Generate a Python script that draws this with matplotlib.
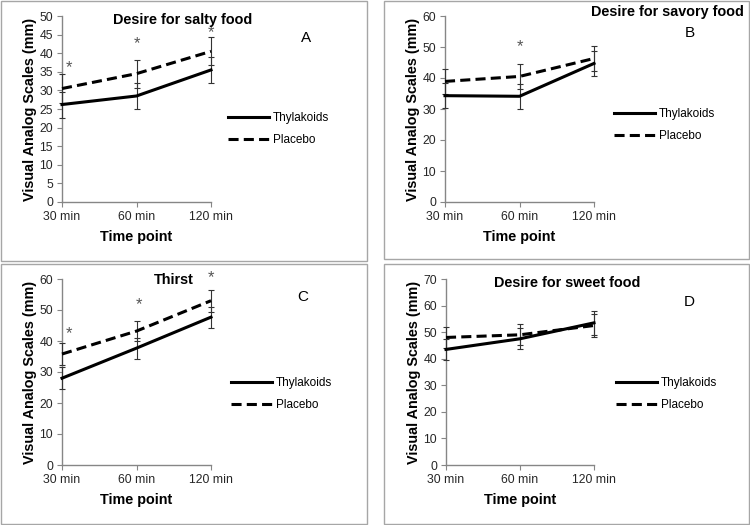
import matplotlib
matplotlib.use("Agg")
import matplotlib.pyplot as plt
from matplotlib.patches import Rectangle
from matplotlib.lines import Line2D

plt.rcParams['font.family'] = ['Liberation Sans', 'DejaVu Sans']

W, H = 750, 525
categories = ["30 min", "60 min", "120 min"]
series_names = ["Thylakoids", "Placebo"]

# Panel A - Desire for salty food
salty_thy = [26.2, 28.5, 35.5]
salty_thy_err = [3.5, 3.5, 3.5]
salty_pla = [30.5, 34.5, 40.5]
salty_pla_err = [3.8, 3.8, 3.8]
salty_stars = [(0.09, 36.0), (1.0, 42.7), (2.0, 45.4)]

# Panel B - Desire for savory food
savory_thy = [34.3, 34.1, 44.7]
savory_thy_err = [4.0, 4.1, 4.0]
savory_pla = [38.9, 40.5, 46.3]
savory_pla_err = [3.9, 4.1, 4.0]
savory_stars = [(1.0, 50.0)]

# Panel C - Thirst
thirst_thy = [28.0, 37.7, 47.7]
thirst_thy_err = [3.5, 3.4, 3.4]
thirst_pla = [35.8, 43.2, 53.0]
thirst_pla_err = [3.4, 3.3, 3.5]
thirst_stars = [(0.09, 42.3), (1.03, 51.6), (2.0, 60.6)]

# Panel D - Desire for sweet food
sweet_thy = [43.5, 47.5, 53.5]
sweet_thy_err = [4.0, 4.0, 4.5]
sweet_pla = [48.0, 49.0, 52.5]
sweet_pla_err = [4.0, 4.0, 4.2]
sweet_stars = []

fig = plt.figure(figsize=(7.5, 5.25), dpi=100)

def P(x, y):
    return (x / W, 1 - y / H)

# panel borders
for (x0, y0, x1, y1) in [(1, 1, 367, 261), (384, 1, 749, 259), (1, 264, 367, 524), (384, 264, 749, 524)]:
    fig.patches.append(Rectangle(P(x0, y1), (x1 - x0) / W, (y1 - y0) / H, transform=fig.transFigure,
                                 fill=False, edgecolor='#a6a6a6', lw=1.0))

panels = [
    dict(box=(62, 16, 211, 202), ymax=50, step=5, thy=salty_thy, te=salty_thy_err, pla=salty_pla, pe=salty_pla_err,
         stars=salty_stars, title="Desire for salty food", tpos=(183, 20, 'center'), letter="A", lpos=(306, 38),
         leg=(228, 129)),
    dict(box=(445, 16, 594, 202), ymax=60, step=10, thy=savory_thy, te=savory_thy_err, pla=savory_pla, pe=savory_pla_err,
         stars=savory_stars, title="Desire for savory food", tpos=(744, 12, 'right'), letter="B", lpos=(690, 33),
         leg=(614, 125)),
    dict(box=(62, 279, 211, 465), ymax=60, step=10, thy=thirst_thy, te=thirst_thy_err, pla=thirst_pla, pe=thirst_pla_err,
         stars=thirst_stars, title="Thirst", tpos=(174, 280, 'center'), letter="C", lpos=(303, 297),
         leg=(231, 394)),
    dict(box=(446, 279, 594, 465), ymax=70, step=10, thy=sweet_thy, te=sweet_thy_err, pla=sweet_pla, pe=sweet_pla_err,
         stars=sweet_stars, title="Desire for sweet food", tpos=(567, 283, 'center'), letter="D", lpos=(689, 302),
         leg=(616, 394)),
]

axis_color = '#868686'
dash = (0, (3.3, 1.7))
xs = list(range(len(categories)))
for p in panels:
    x0, y0, x1, y1 = p['box']
    ax = fig.add_axes([x0 / W, 1 - y1 / H, (x1 - x0) / W, (y1 - y0) / H])
    ax.set_xlim(0, 2)
    ax.set_ylim(0, p['ymax'])
    ax.errorbar(xs, p['thy'], yerr=p['te'], color='black', lw=2.2, ecolor='#333333', elinewidth=0.8,
                capsize=2.3, capthick=0.8, clip_on=False, zorder=3)
    ax.errorbar(xs, p['pla'], yerr=p['pe'], color='black', lw=2.2, ls=dash, ecolor='#333333',
                elinewidth=0.8, capsize=2.3, capthick=0.8, clip_on=False, zorder=3)
    for (sx, sy) in p['stars']:
        ax.text(sx, sy, '*', ha='center', va='center', fontsize=12, color='#555555', clip_on=False)
    ax.set_xticks(xs)
    ax.set_xticklabels(categories)
    ax.set_yticks(range(0, p['ymax'] + 1, p['step']))
    for s in ['top', 'right']:
        ax.spines[s].set_visible(False)
    for s in ['left', 'bottom']:
        ax.spines[s].set_color(axis_color)
        ax.spines[s].set_linewidth(1.0)
    ax.tick_params(axis='both', direction='out', length=3.5, width=0.8, color=axis_color,
                   labelsize=8.8, labelcolor='#262626', pad=3)
    ax.set_ylabel("Visual Analog Scales (mm)", fontsize=10.4, fontweight='bold', labelpad=1.5)
    ax.set_xlabel("Time point", fontsize=10.4, fontweight='bold', labelpad=5)
    ax.patch.set_alpha(0)
    fig.text(*P(p['tpos'][0], p['tpos'][1]), p['title'], ha=p['tpos'][2], va='center', fontsize=10.4,
             fontweight='bold')
    fig.text(*P(*p['lpos']), p['letter'], ha='center', va='center', fontsize=11)
    handles = [Line2D([], [], color='black', lw=2.2), Line2D([], [], color='black', lw=2.2, ls=dash)]
    ax.legend(handles, series_names, loc='center left', bbox_to_anchor=P(*p['leg']),
              bbox_transform=fig.transFigure, frameon=False, fontsize=8.5, handlelength=3.5,
              handletextpad=0.3, labelspacing=0.85, borderpad=0, borderaxespad=0)

fig.savefig("out.png", dpi=100)
